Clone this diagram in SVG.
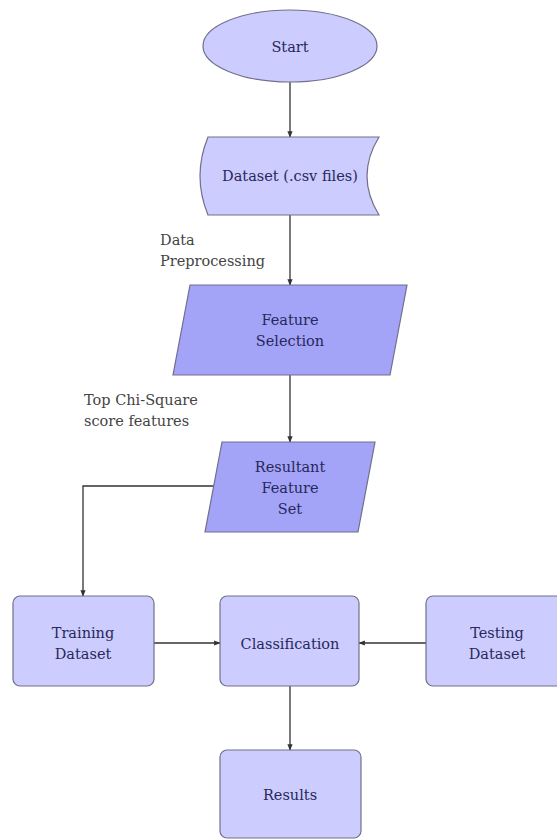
<svg xmlns="http://www.w3.org/2000/svg" width="557" height="840" viewBox="0 0 557 840">
<style>
.light{fill:#ccccff;stroke:#70708c;stroke-width:1.2}
.dark{fill:#a3a3f7;stroke:#70708c;stroke-width:1.2}
.t{font-family:"DejaVu Serif",serif;font-size:14.5px;fill:#28285a;text-anchor:middle}
.lbl{font-family:"DejaVu Serif",serif;font-size:14.5px;fill:#444}
.c{fill:none;stroke:#333;stroke-width:1.3;marker-end:url(#ah)}
</style>
<defs>
<marker id="ah" viewBox="0 0 10 10" refX="9" refY="5" markerWidth="5" markerHeight="5" orient="auto" markerUnits="strokeWidth">
<path d="M0,1 L10,5 L0,9 Z" fill="#333"/>
</marker>
</defs>
<rect width="557" height="840" fill="#ffffff"/>
<g id="connectors">
<path class="c" d="M290,82 V137"/>
<path class="c" d="M290,215 V285"/>
<path class="c" d="M290,375 V442"/>
<path class="c" d="M214,486 H83 V596"/>
<path class="c" d="M154,643 H220"/>
<path class="c" d="M426,643 H359"/>
<path class="c" d="M290,686 V750"/>
</g>
<g id="label-preprocessing">
<text class="lbl" x="160" y="245">Data</text>
<text class="lbl" x="160" y="266">Preprocessing</text>
</g>
<g id="label-chisquare">
<text class="lbl" x="84" y="405">Top Chi-Square</text>
<text class="lbl" x="84" y="426">score features</text>
</g>
<g id="start">
<ellipse class="light" cx="290" cy="46" rx="87" ry="36"/>
<text class="t" x="290" y="52">Start</text>
</g>
<g id="dataset">
<path class="light" d="M208,137 L379,137 Q355,176 379,215 L208,215 Q192,176 208,137 Z"/>
<text class="t" x="290" y="181">Dataset (.csv files)</text>
</g>
<g id="feature-selection">
<path class="dark" d="M190,285 L407,285 L390,375 L173,375 Z"/>
<text class="t" x="290" y="325">Feature</text>
<text class="t" x="290" y="346">Selection</text>
</g>
<g id="resultant">
<path class="dark" d="M222,442 L375,442 L358,532 L205,532 Z"/>
<text class="t" x="290" y="472">Resultant</text>
<text class="t" x="290" y="493">Feature</text>
<text class="t" x="290" y="514">Set</text>
</g>
<g id="training">
<rect class="light" x="13" y="596" width="141" height="90" rx="7"/>
<text class="t" x="83" y="638">Training</text>
<text class="t" x="83" y="659">Dataset</text>
</g>
<g id="classification">
<rect class="light" x="220" y="596" width="139" height="90" rx="7"/>
<text class="t" x="290" y="649">Classification</text>
</g>
<g id="testing">
<rect class="light" x="426" y="596" width="142" height="90" rx="7"/>
<text class="t" x="497" y="638">Testing</text>
<text class="t" x="497" y="659">Dataset</text>
</g>
<g id="results">
<rect class="light" x="220" y="750" width="141" height="88" rx="7"/>
<text class="t" x="290" y="800">Results</text>
</g>
</svg>
